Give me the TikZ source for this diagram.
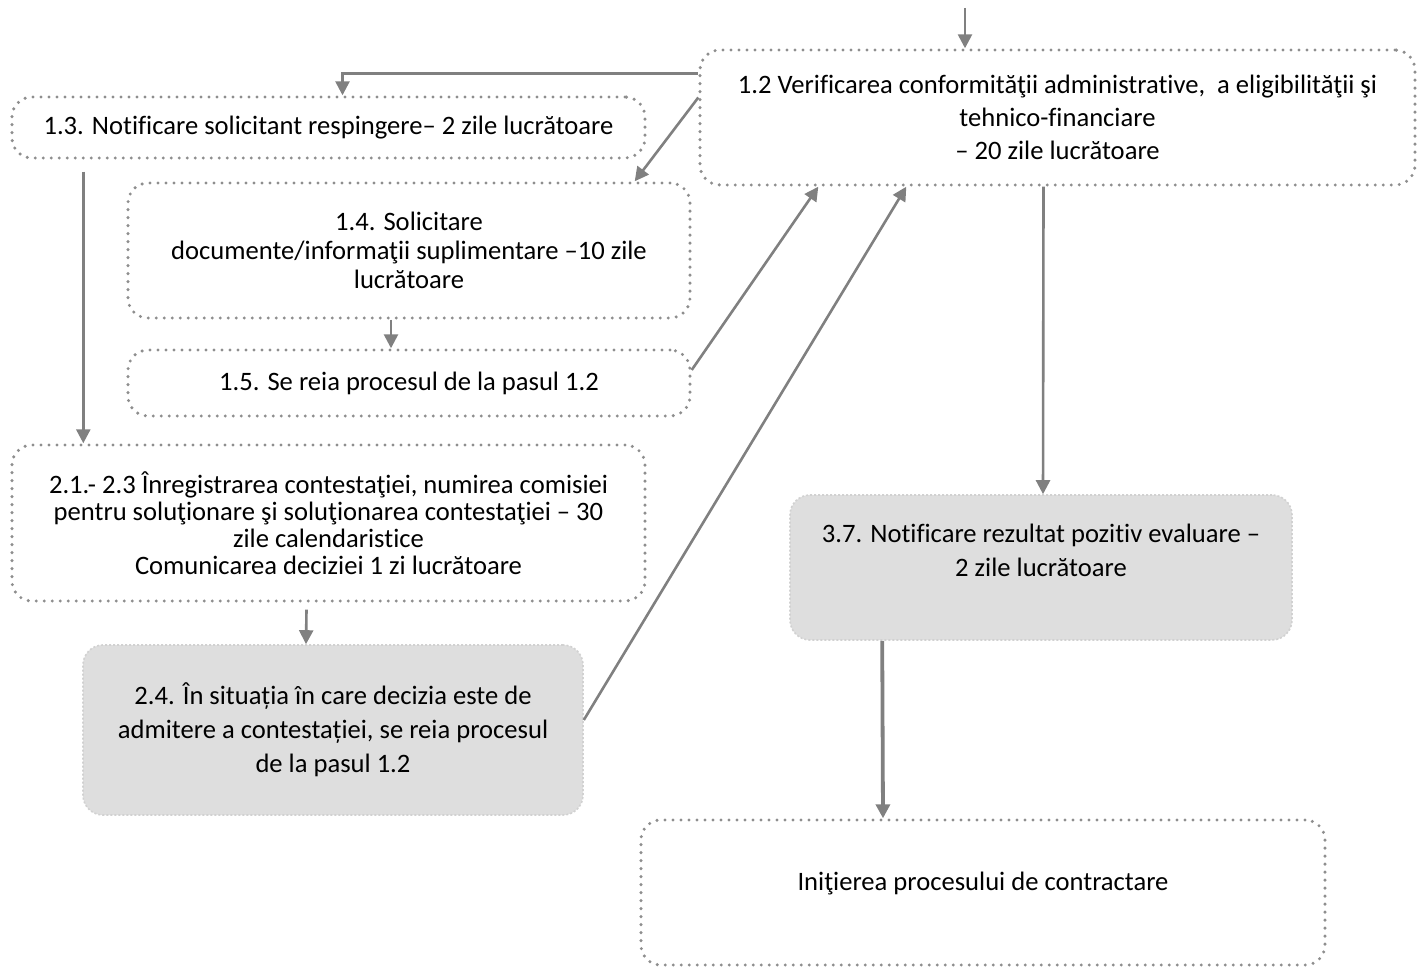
\documentclass[tikz,border=0pt]{standalone}
\usepackage{fontspec}
\setmainfont{Carlito}[Ligatures=NoCommon]
\usepackage{tikz}
\usetikzlibrary{arrows.meta,positioning}

\definecolor{linegray}{HTML}{808080}
\definecolor{dotgray}{HTML}{8E8E8E}
\definecolor{shadegray}{HTML}{DEDEDE}

\begin{document}
\begin{tikzpicture}[x=0.5pt,y=-0.5pt,
		box/.style={rounded corners=10pt, draw=dotgray, line width=1.7pt, line cap=round,
			dash pattern=on 0pt off 4pt, align=center, font=\fontsize{13.3}{13.5}\selectfont,
			inner sep=0pt},
		shadebox/.style={rounded corners=10pt, fill=shadegray, draw=black!18, line width=0.8pt,
			dash pattern=on 1pt off 1pt, align=center, inner sep=0pt},
		arr/.style={-{Triangle[length=7pt,width=7pt]}, draw=linegray, line width=1.3pt, color=linegray},
		thickarr/.style={arr, line width=1.9pt}]
	\useasboundingbox (0,0) rectangle (1417,967);

	% boxes
	\node[box, minimum width=357.5pt, minimum height=67.5pt,
		font=\fontsize{13.3}{16.5}\selectfont] (verif) at (1057.5,117.5)
		{1.2 Verificarea conformităţii administrative,\ \ a eligibilităţii şi\\tehnico-financiare\\– 20 zile lucrătoare};
	\node[box, minimum width=316.5pt, minimum height=30.5pt] (resp) at (328.5,127.5)
		{1.3. Notificare solicitant respingere– 2 zile lucrătoare};
	\node[box, minimum width=281pt, minimum height=67.5pt,
		font=\fontsize{13.3}{14.5}\selectfont] (solic) at (409,250.5)
		{1.4. Solicitare\\documente/informaţii suplimentare –10 zile\\lucrătoare};
	\node[box, minimum width=281pt, minimum height=33pt] (reia) at (409,383)
		{1.5. Se reia procesul de la pasul 1.2};
	\node[box, minimum width=316.5pt, minimum height=78pt] (contest) at (328.5,523)
		{2.1.- 2.3 Înregistrarea contestaţiei, numirea comisiei\\pentru soluţionare şi soluţionarea contestaţiei – 30\\zile calendaristice\\Comunicarea deciziei 1 zi lucrătoare};
	\node[shadebox, minimum width=250pt, minimum height=85pt,
		font=\fontsize{13.3}{17}\selectfont] (admit) at (333,730)
		{2.4. În situația în care decizia este de\\admitere a contestației, se reia procesul\\de la pasul 1.2};
	\node[shadebox, minimum width=251pt, minimum height=72.5pt,
		font=\fontsize{13.3}{17}\selectfont] (pozitiv) at (1041,567.5)
		{3.7. Notificare rezultat pozitiv evaluare –\\2 zile lucrătoare\\\mbox{}};
	\node[box, minimum width=342pt, minimum height=72.5pt,
		font=\fontsize{13.3}{11.5}\selectfont] (contract) at (983,892.5)
		{Iniţierea procesului de contractare\\\mbox{}};

	% connectors
	\coordinate (start) at (965,8);
	\draw[arr] (start) -- (start |- verif.north);
	\draw[arr] ([yshift=22pt]verif.west) -| ([xshift=7pt]resp.north);
	\draw[arr] ([yshift=10pt]verif.west) -- ([xshift=-28.5pt]solic.north east);
	\draw[arr] ([xshift=-9pt]solic.south) -- ([xshift=-9pt]reia.north);
	\draw[arr] ([yshift=6.5pt]reia.east) -- ([xshift=60pt]verif.south west);
	\draw[arr] ([yshift=5pt]admit.east) -- ([xshift=104pt]verif.south west);
	\draw[arr] ([shift={(36.5pt,-6pt)}]resp.south west) -- ([xshift=36.5pt]contest.north west);
	\draw[arr] ([shift={(-11pt,-3.5pt)}]contest.south) -- ([xshift=-13.5pt]admit.north);
	\draw[arr] ([xshift=-7pt]verif.south) -- ([xshift=1pt]pozitiv.north);
	\draw[thickarr] ([xshift=46.5pt]pozitiv.south west) -- ([xshift=-50pt]contract.north);
\end{tikzpicture}
\end{document}
